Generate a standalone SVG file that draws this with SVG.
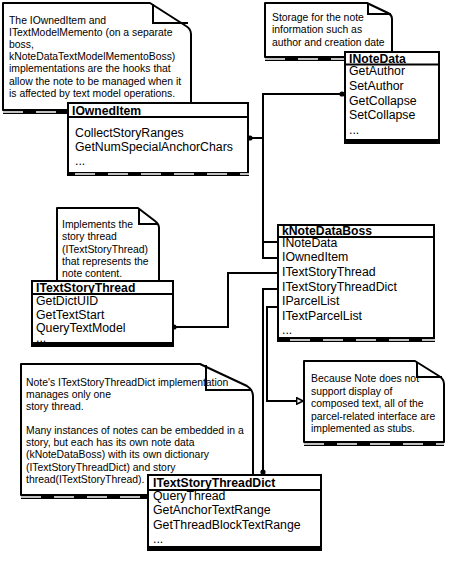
<svg xmlns="http://www.w3.org/2000/svg" width="462" height="568" viewBox="0 0 462 568">
<defs>
<style>
.t{font-family:"Liberation Sans",Arial,sans-serif;font-size:12.3px;fill:#000}
.h{font-weight:bold;font-size:12.2px}
.n{font-size:10.4px}
.box{fill:#fff;stroke:#000;stroke-width:2}
.note{fill:#fff;stroke:#000;stroke-width:2;stroke-linejoin:round}
.fold{fill:none;stroke:#000;stroke-width:2}
.sep{stroke:#000;stroke-width:2}
.sh{stroke:#000;stroke-width:4}
.shd{stroke:#fff;stroke-width:1.4;stroke-dasharray:20 13}
.c{fill:none;stroke:#000;stroke-width:2}
</style>
<marker id="open" viewBox="0 0 10 10" refX="9" refY="5" markerWidth="4" markerHeight="4" markerUnits="strokeWidth" orient="auto">
<path d="M1,1 L9,5 L1,9 Z" fill="#fff" stroke="#000" stroke-width="2"/>
</marker>
</defs>
<rect width="462" height="568" fill="#fff"/>

<g id="note-owned">
<path class="note" d="M3,3 H150 L186,26 Q191,29 191,34 V110 H3 Z"/>
<line class="sh" x1="3" y1="112" x2="68" y2="112"/>
<line class="shd" x1="3" y1="112" x2="68" y2="112"/>
<text class="t n" x="9" y="24">The IOwnedItem and</text>
<text class="t n" x="9" y="36">ITextModelMemento (on a separate</text>
<text class="t n" x="9" y="48">boss,</text>
<text class="t n" x="9" y="60">kNoteDataTextModelMementoBoss)</text>
<text class="t n" x="9" y="72">implementations are the hooks that</text>
<text class="t n" x="9" y="85">allow the note to be managed when it</text>
<text class="t n" x="9" y="97">is affected by text model operations.</text>
<path class="fold" d="M153,4 V23 H188"/>
</g>

<g id="note-notedata">
<path class="note" d="M265,3 H367 L388,13 Q392,15 392,19 V57 H265 Z"/>
<line class="sh" x1="265" y1="59" x2="345" y2="59"/>
<line class="shd" x1="265" y1="59" x2="345" y2="59"/>
<text class="t n" x="272" y="21">Storage for the note</text>
<text class="t n" x="272" y="33">information such as</text>
<text class="t n" x="272" y="46">author and creation date</text>
<path class="fold" d="M368,4 V14 H391"/>
</g>

<g id="note-thread">
<path class="note" d="M57,208 H138 L155,221 Q159,224 159,228 V282 H57 Z"/>
<text class="t n" x="62" y="228">Implements the</text>
<text class="t n" x="62" y="240">story thread</text>
<text class="t n" x="62" y="253">(ITextStoryThread)</text>
<text class="t n" x="62" y="265">that represents the</text>
<text class="t n" x="62" y="277">note content.</text>
<path class="fold" d="M139,209 V224 H158"/>
</g>

<g id="note-dict">
<path class="note" d="M21,364 H200 L247,386 Q253,390 253,396 V495 H21 Z"/>
<line class="sh" x1="21" y1="497" x2="150" y2="497"/>
<line class="shd" x1="21" y1="497" x2="150" y2="497"/>
<text class="t n" x="26" y="386">Note's ITextStoryThreadDict implementation</text>
<text class="t n" x="26" y="398">manages only one</text>
<text class="t n" x="26" y="410">story thread.</text>
<text class="t n" x="26" y="434">Many instances of notes can be embedded in a</text>
<text class="t n" x="26" y="446">story, but each has its own note data</text>
<text class="t n" x="26" y="458">(kNoteDataBoss) with its own dictionary</text>
<text class="t n" x="26" y="471">(ITextStoryThreadDict) and story</text>
<text class="t n" x="26" y="483">thread(ITextStoryThread).</text>
<path class="fold" d="M206,365 V390 H251"/>
</g>

<g id="note-parcel">
<path class="note" d="M304,361 H415 L439,376 Q444,379 444,384 V442 H304 Z"/>
<line class="sh" x1="304" y1="444" x2="444" y2="444"/>
<line class="shd" x1="304" y1="444" x2="444" y2="444"/>
<text class="t n" x="311" y="382">Because Note does not</text>
<text class="t n" x="311" y="395">support display of</text>
<text class="t n" x="311" y="407">composed text, all of the</text>
<text class="t n" x="311" y="420">parcel-related interface are</text>
<text class="t n" x="311" y="432">implemented as stubs.</text>
<path class="fold" d="M417,362 V377 H442"/>
</g>

<g id="connectors">
<path class="c" d="M249,138 H263 V258 H278"/>
<circle cx="250" cy="138" r="2.6"/>
<path class="c" d="M344,94 H263 V242 H278"/>
<circle cx="342" cy="94" r="2.6"/>
<path class="c" d="M173,327 H228 V273 H278"/>
<circle cx="174" cy="327" r="2.6"/>
<path class="c" d="M263,474 V289 H278"/>
<circle cx="263" cy="472" r="2.6"/>
<path class="c" d="M278,307 H267 V401 H303" marker-end="url(#open)"/>
</g>

<g id="IOwnedItem">
<rect class="box" x="68" y="103" width="180" height="70"/>
<line class="sep" x1="68" y1="117" x2="248" y2="117"/>
<line class="sh" x1="67" y1="174" x2="249" y2="174"/>
<line class="shd" x1="75" y1="174" x2="249" y2="174"/>
<text class="t h" x="72" y="115">IOwnedItem</text>
<text class="t" x="75" y="137">CollectStoryRanges</text>
<text class="t" x="75" y="151">GetNumSpecialAnchorChars</text>
<text class="t" x="75" y="165">...</text>
</g>

<g id="INoteData">
<rect class="box" x="345" y="52" width="94" height="88"/>
<line class="sep" x1="345" y1="64.5" x2="439" y2="64.5"/>
<line class="sh" x1="344" y1="142" x2="440" y2="142"/>
<text class="t h" x="349" y="63">INoteData</text>
<text class="t" x="349" y="75">GetAuthor</text>
<text class="t" x="349" y="90">SetAuthor</text>
<text class="t" x="349" y="105">GetCollapse</text>
<text class="t" x="349" y="119">SetCollapse</text>
<text class="t" x="349" y="134">...</text>
</g>

<g id="kNoteDataBoss">
<rect class="box" x="278" y="225" width="156" height="113"/>
<line class="sep" x1="278" y1="237" x2="434" y2="237"/>
<line class="sh" x1="277" y1="340" x2="435" y2="340"/>
<line class="shd" x1="290" y1="340" x2="435" y2="340"/>
<text class="t h" x="282" y="234.5">kNoteDataBoss</text>
<text class="t" x="282" y="246.5">INoteData</text>
<text class="t" x="282" y="261">IOwnedItem</text>
<text class="t" x="282" y="276">ITextStoryThread</text>
<text class="t" x="282" y="291">ITextStoryThreadDict</text>
<text class="t" x="282" y="305">IParcelList</text>
<text class="t" x="282" y="320">ITextParcelList</text>
<text class="t" x="282" y="334">...</text>
</g>

<g id="ITextStoryThread">
<rect class="box" x="32" y="281" width="141" height="62"/>
<line class="sep" x1="32" y1="294" x2="173" y2="294"/>
<line class="sh" x1="31" y1="345" x2="174" y2="345"/>
<text class="t h" x="36" y="292">ITextStoryThread</text>
<text class="t" x="36" y="305">GetDictUID</text>
<text class="t" x="36" y="319">GetTextStart</text>
<text class="t" x="36" y="332">QueryTextModel</text>
<text class="t" x="36" y="342">...</text>
</g>

<g id="ITextStoryThreadDict">
<rect class="box" x="148" y="475" width="173" height="72"/>
<line class="sep" x1="148" y1="490" x2="321" y2="490"/>
<line class="sh" x1="147" y1="549" x2="322" y2="549"/>
<text class="t h" x="153" y="487">ITextStoryThreadDict</text>
<text class="t" x="153" y="499.5">QueryThread</text>
<text class="t" x="153" y="514">GetAnchorTextRange</text>
<text class="t" x="153" y="529">GetThreadBlockTextRange</text>
<text class="t" x="153" y="543">...</text>
</g>
</svg>
